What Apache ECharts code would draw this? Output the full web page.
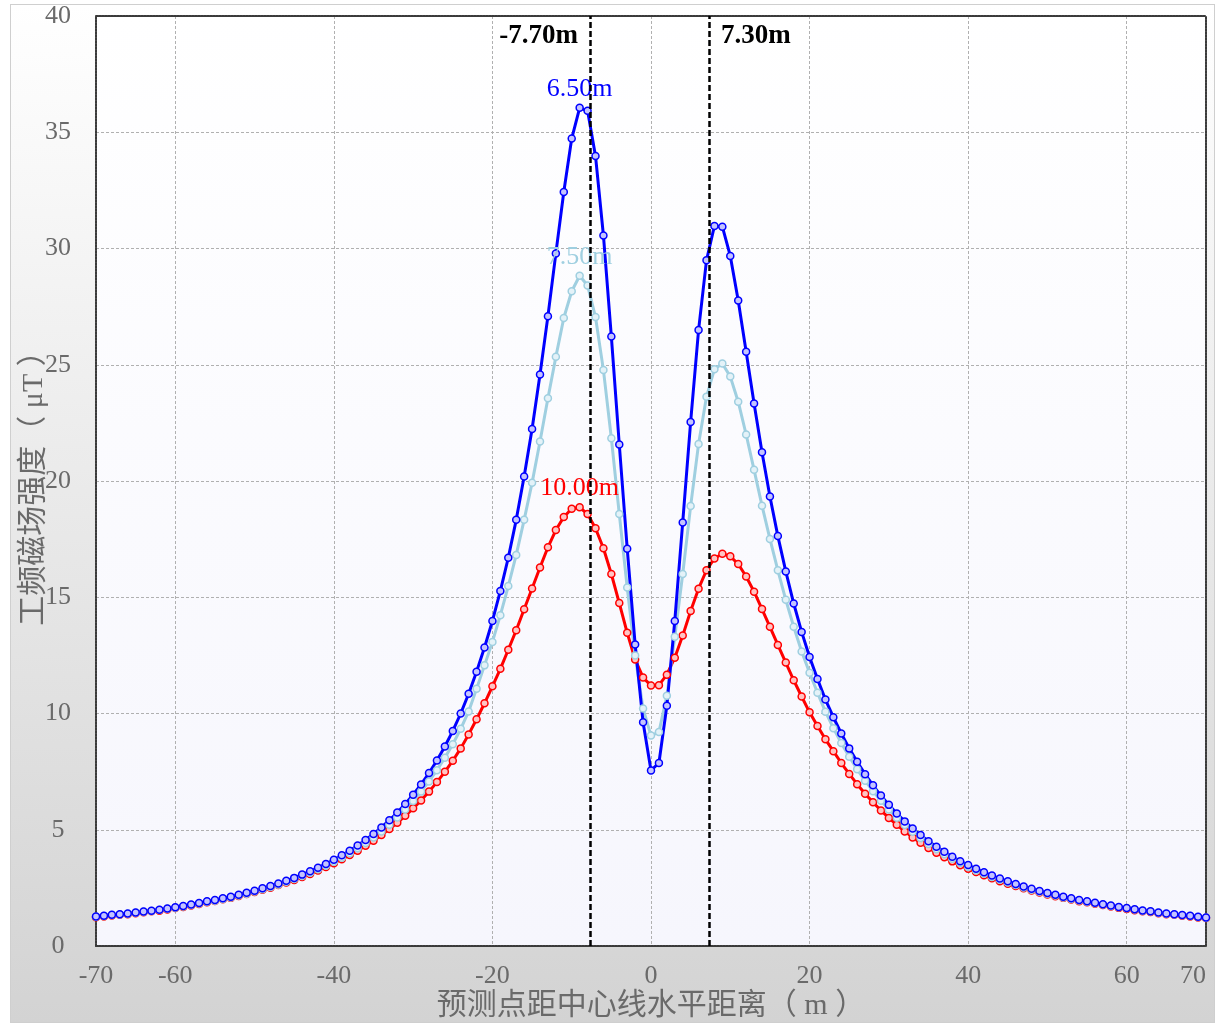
<!DOCTYPE html>
<html>
<head>
<meta charset="utf-8">
<title>工频磁场强度</title>
<script src="https://cdn.jsdelivr.net/npm/echarts@6/dist/echarts.min.js"></script>
<style>
  html, body { margin: 0; padding: 0; background: #fff; }
  #main {
    position: absolute;
    left: 10px;
    top: 4px;
    width: 1203px;
    height: 1017px;
    border: 1px solid #cfcfcf;
    background: linear-gradient(to bottom, #ffffff 0%, #d3d3d3 100%);
  }
</style>
</head>
<body>
<div id="main"></div>
<script>
// 预测点距中心线水平距离 (m)
const distances = [
  -70, -69, -68, -67, -66, -65, -64, -63, -62, -61, -60, -59, -58, -57, -56,
  -55, -54, -53, -52, -51, -50, -49, -48, -47, -46, -45, -44, -43, -42, -41,
  -40, -39, -38, -37, -36, -35, -34, -33, -32, -31, -30, -29, -28, -27, -26,
  -25, -24, -23, -22, -21, -20, -19, -18, -17, -16, -15, -14, -13, -12, -11,
  -10, -9, -8, -7, -6, -5, -4, -3, -2, -1, 0, 1, 2, 3, 4,
  5, 6, 7, 8, 9, 10, 11, 12, 13, 14, 15, 16, 17, 18, 19,
  20, 21, 22, 23, 24, 25, 26, 27, 28, 29, 30, 31, 32, 33, 34,
  35, 36, 37, 38, 39, 40, 41, 42, 43, 44, 45, 46, 47, 48, 49,
  50, 51, 52, 53, 54, 55, 56, 57, 58, 59, 60, 61, 62, 63, 64,
  65, 66, 67, 68, 69, 70
]

// 导线对地高度 6.50m
const h650 = [
  1.27, 1.30, 1.34, 1.37, 1.40, 1.44, 1.48, 1.52, 1.56, 1.61, 1.67, 1.72, 1.78, 1.85, 1.92,
  1.98, 2.05, 2.12, 2.20, 2.29, 2.38, 2.48, 2.58, 2.69, 2.81, 2.93, 3.07, 3.21, 3.37, 3.53,
  3.71, 3.90, 4.10, 4.32, 4.56, 4.82, 5.10, 5.41, 5.74, 6.11, 6.51, 6.95, 7.44, 7.98, 8.58,
  9.25, 10.00, 10.85, 11.80, 12.84, 13.98, 15.27, 16.70, 18.33, 20.19, 22.24, 24.58, 27.09, 29.79, 32.43,
  34.73, 36.05, 35.92, 33.98, 30.56, 26.21, 21.57, 17.09, 12.97, 9.62, 7.55, 7.87, 10.33, 13.98, 18.22,
  22.54, 26.49, 29.49, 30.97, 30.94, 29.68, 27.76, 25.56, 23.33, 21.24, 19.33, 17.63, 16.11, 14.73, 13.51,
  12.43, 11.48, 10.60, 9.84, 9.14, 8.50, 7.92, 7.39, 6.91, 6.47, 6.07, 5.70, 5.36, 5.05, 4.77,
  4.51, 4.27, 4.05, 3.84, 3.65, 3.48, 3.32, 3.17, 3.03, 2.90, 2.78, 2.67, 2.56, 2.46, 2.37,
  2.28, 2.20, 2.12, 2.05, 1.98, 1.92, 1.86, 1.80, 1.74, 1.68, 1.63, 1.58, 1.53, 1.49, 1.44,
  1.40, 1.37, 1.33, 1.30, 1.26, 1.23
]

// 导线对地高度 7.50m
const h750 = [
  1.26, 1.29, 1.33, 1.36, 1.39, 1.43, 1.47, 1.51, 1.55, 1.60, 1.65, 1.70, 1.76, 1.83, 1.90,
  1.95, 2.02, 2.09, 2.17, 2.25, 2.34, 2.44, 2.54, 2.64, 2.76, 2.88, 3.01, 3.15, 3.30, 3.45,
  3.62, 3.80, 3.99, 4.20, 4.43, 4.67, 4.93, 5.22, 5.53, 5.87, 6.24, 6.64, 7.08, 7.56, 8.10,
  8.68, 9.34, 10.09, 11.06, 12.07, 13.08, 14.23, 15.48, 16.82, 18.33, 19.92, 21.70, 23.56, 25.34, 27.01,
  28.16, 28.83, 28.41, 27.05, 24.77, 21.84, 18.58, 15.42, 12.49, 10.21, 9.05, 9.20, 10.76, 13.30, 16.00,
  18.92, 21.59, 23.62, 24.81, 25.05, 24.49, 23.41, 22.00, 20.48, 18.94, 17.51, 16.16, 14.89, 13.73, 12.67,
  11.75, 10.89, 10.08, 9.37, 8.73, 8.14, 7.60, 7.11, 6.66, 6.25, 5.87, 5.52, 5.20, 4.91, 4.64,
  4.39, 4.16, 3.95, 3.75, 3.57, 3.40, 3.25, 3.11, 2.97, 2.85, 2.73, 2.62, 2.52, 2.42, 2.33,
  2.25, 2.17, 2.09, 2.02, 1.96, 1.90, 1.84, 1.78, 1.72, 1.67, 1.62, 1.57, 1.52, 1.48, 1.43,
  1.39, 1.36, 1.32, 1.29, 1.25, 1.22
]

// 导线对地高度 10.00m
const h1000 = [
  1.24, 1.27, 1.31, 1.34, 1.37, 1.41, 1.45, 1.49, 1.52, 1.57, 1.63, 1.68, 1.74, 1.81, 1.88,
  1.94, 2.01, 2.07, 2.15, 2.24, 2.32, 2.42, 2.51, 2.62, 2.73, 2.84, 2.97, 3.10, 3.25, 3.40,
  3.56, 3.73, 3.91, 4.10, 4.31, 4.53, 4.77, 5.03, 5.30, 5.60, 5.92, 6.26, 6.64, 7.05, 7.49,
  7.97, 8.50, 9.10, 9.75, 10.44, 11.17, 11.92, 12.74, 13.58, 14.48, 15.38, 16.28, 17.15, 17.89, 18.45,
  18.81, 18.87, 18.58, 17.97, 17.11, 16.00, 14.75, 13.47, 12.32, 11.55, 11.20, 11.22, 11.67, 12.40, 13.35,
  14.41, 15.37, 16.16, 16.67, 16.87, 16.76, 16.43, 15.89, 15.24, 14.49, 13.73, 12.95, 12.19, 11.43, 10.73,
  10.05, 9.46, 8.89, 8.38, 7.87, 7.40, 6.96, 6.55, 6.18, 5.83, 5.51, 5.21, 4.93, 4.67, 4.44,
  4.22, 4.01, 3.82, 3.64, 3.47, 3.32, 3.18, 3.04, 2.91, 2.79, 2.68, 2.58, 2.48, 2.39, 2.30,
  2.22, 2.14, 2.07, 2.00, 1.93, 1.88, 1.82, 1.76, 1.70, 1.64, 1.59, 1.54, 1.50, 1.46, 1.41,
  1.37, 1.34, 1.30, 1.27, 1.23, 1.20
]

// 线路边导线位置
const edgeLines = [-7.7, 7.3]
const edgeLabels = ['-7.70m', '7.30m']

// 坐标轴刻度
const xLabelValues = [-70, -60, -40, -20, 0, 20, 40, 60, 70]
const xGridValues = [-60, -40, -20, 0, 20, 40, 60]

const SERIF = '"Liberation Serif", "Times New Roman", serif'
const MIXED = '"Liberation Serif", "Noto Sans CJK SC", sans-serif'
const frameLine = { color: '#3a3a3a', width: 2, type: [2, 1] }
const gridLine = { color: '#b0b0b0', width: 1, type: [3, 2] }

function makeSeries(name, values, color, fill) {
  return {
    name: name,
    type: 'line',
    data: distances.map((d, i) => [d, values[i]]),
    symbol: 'circle',
    symbolSize: 7,
    lineStyle: { color: color, width: 3 },
    itemStyle: { color: fill, borderColor: color, borderWidth: 1.5 },
    markPoint: {
      symbol: 'circle',
      symbolSize: 0,
      data: [{ type: 'max' }],
      label: {
        show: true,
        formatter: name,
        position: 'top',
        distance: 6,
        color: color,
        fontSize: 26,
        fontFamily: SERIF
      }
    }
  }
}

const chart = echarts.init(document.getElementById('main'))

const red = makeSeries('10.00m', h1000, '#ff0000', '#ffc4c4')
const light = makeSeries('7.50m', h750, '#9fcfe0', '#e4f2f8')
const blue = makeSeries('6.50m', h650, '#0000ff', '#c4c4ff')

// 边导线竖线及标注
blue.markLine = {
  silent: true,
  symbol: 'none',
  z: 10,
  label: { show: false },
  lineStyle: { color: '#000', width: 2.5, type: [6, 3] },
  data: edgeLines.map(v => ({ xAxis: v }))
}
blue.markPoint.data = blue.markPoint.data.concat(edgeLines.map((v, i) => ({
  coord: [v, 40],
  label: {
    formatter: edgeLabels[i],
    position: v < 0 ? 'left' : 'right',
    distance: 12,
    offset: [0, 20],
    color: '#000',
    fontWeight: 'bold',
    fontSize: 27,
    fontFamily: SERIF
  }
})))

chart.setOption({
  animation: false,
  grid: {
    left: 85,
    right: 8,
    top: 11,
    bottom: 76,
    outerBoundsMode: 'none',
    containLabel: false,
    show: true,
    borderWidth: 0,
    backgroundColor: {
      type: 'linear', x: 0, y: 0, x2: 0, y2: 1,
      colorStops: [
        { offset: 0, color: '#ffffff' },
        { offset: 1, color: '#f6f6fd' }
      ]
    }
  },
  xAxis: [{
    type: 'value',
    min: -70,
    max: 70,
    name: '预测点距中心线水平距离（ m ）',
    nameLocation: 'middle',
    nameGap: 45,
    nameMoveOverlap: false,
    nameTextStyle: { fontSize: 30, color: '#6a6a6a', fontFamily: MIXED },
    axisLine: { show: true, onZero: false, lineStyle: frameLine },
    axisTick: { show: false, customValues: xGridValues },
    axisLabel: {
      customValues: xLabelValues,
      alignMaxLabel: 'right',
      margin: 17,
      color: '#6a6a6a',
      fontSize: 26,
      fontFamily: SERIF
    },
    splitLine: { show: true, lineStyle: gridLine }
  }, {
    type: 'value',
    position: 'top',
    min: -70,
    max: 70,
    axisLine: { show: true, onZero: false, lineStyle: frameLine },
    axisTick: { show: false },
    axisLabel: { show: false },
    splitLine: { show: false }
  }],
  yAxis: [{
    type: 'value',
    min: 0,
    max: 40,
    interval: 5,
    name: '工频磁场强度（ μT ）',
    nameLocation: 'middle',
    nameRotate: 90,
    nameGap: 47,
    nameMoveOverlap: false,
    nameTextStyle: { fontSize: 30, color: '#6a6a6a', fontFamily: MIXED },
    axisLine: { show: true, onZero: false, lineStyle: frameLine },
    axisTick: { show: false },
    axisLabel: {
      align: 'center',
      margin: 38,
      padding: [8, 0, 0, 0],
      color: '#6a6a6a',
      fontSize: 26,
      fontFamily: SERIF
    },
    splitLine: { show: true, lineStyle: gridLine }
  }, {
    type: 'value',
    position: 'right',
    min: 0,
    max: 40,
    axisLine: { show: true, onZero: false, lineStyle: frameLine },
    axisTick: { show: false },
    axisLabel: { show: false },
    splitLine: { show: false }
  }],
  series: [red, light, blue]
})
</script>
</body>
</html>
